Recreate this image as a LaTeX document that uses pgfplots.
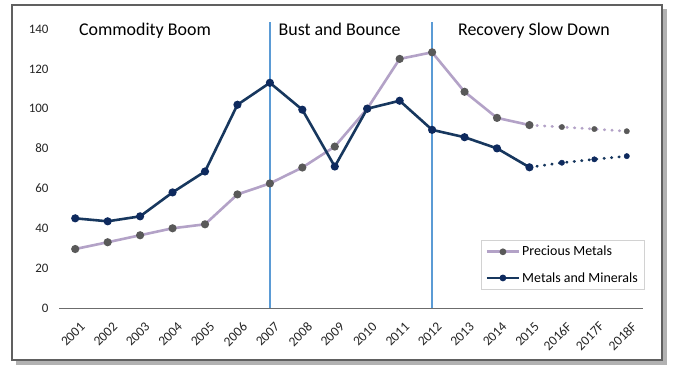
\documentclass[border=0pt]{standalone}
\usepackage{fontspec}
\setmainfont{Carlito}
\usepackage{pgfplots}
\pgfplotsset{compat=1.18}
\definecolor{precious}{HTML}{B3A2C7}
\definecolor{pmark}{HTML}{595959}
\definecolor{metals}{HTML}{17375E}
\definecolor{mmark}{HTML}{0E2A5E}
\definecolor{vline}{HTML}{5B9BD5}
\begin{document}
\begin{tikzpicture}
\useasboundingbox (0bp,0bp) rectangle (689bp,378bp);
\fill[black!30] (16bp,369bp) rectangle (667bp,13bp);
\fill[white, draw=gray!75!black, line width=1.5bp] (12bp,373bp) rectangle (662bp,18bp);
\begin{axis}[
  at={(59bp,70bp)}, anchor=south west,
  scale only axis, width=584bp, height=279bp,
  xmin=-0.5, xmax=17.5, ymin=0, ymax=140,
  clip=false,
  axis lines=left,
  x axis line style={draw=gray!85!black, line width=1bp, -},
  y axis line style={draw=none},
  major tick length=0pt,
  tick style={draw=none},
  xtick={0,...,17},
  xticklabels={2001,2002,2003,2004,2005,2006,2007,2008,2009,2010,2011,2012,2013,2014,2015,2016F,2017F,2018F},
  ytick={0,20,...,140},
  /pgf/number format/assume math mode=true,
  yticklabel style={font=\fontsize{13}{15}\selectfont, xshift=-7bp, text=black!85},
  xticklabel style={font=\fontsize{13.5}{15}\selectfont, rotate=45, anchor=north east, xshift=-3bp, yshift=-9bp, text=black!85},
  legend style={at={(1.0017,0.2437)}, anchor=north east, draw=gray!35, fill=white,
    font=\fontsize{14}{16}\selectfont, row sep=11bp, inner xsep=4bp, inner ysep=4bp,
    cells={anchor=west}},
  legend image code/.code={\draw[mark repeat=2,mark phase=2, mark size=2bp] plot coordinates {(0bp,0bp) (16bp,0bp) (32bp,0bp)};},
]
\addplot[vline, line width=1.3bp, forget plot] coordinates {(6,0) (6,143.5)};
\addplot[vline, line width=1.3bp, forget plot] coordinates {(11,0) (11,143.5)};

\addplot[precious, line width=2.6bp, mark=*, mark size=2.7bp, mark options={fill=pmark, draw=pmark}] coordinates {
(0,29.6) (1,33) (2,36.5) (3,40) (4,42) (5,57) (6,62.5) (7,70.5) (8,81) (9,100) (10,125) (11,128.3) (12,108.5) (13,95.4) (14,91.8)};
\addlegendentry{Precious Metals}
\addplot[metals, line width=2.6bp, mark=*, mark size=2.7bp, mark options={fill=mmark, draw=mmark}] coordinates {
(0,45) (1,43.5) (2,46) (3,58) (4,68.5) (5,102) (6,113) (7,99.5) (8,71) (9,100) (10,104) (11,89.4) (12,85.7) (13,80.1) (14,70.6)};
\addlegendentry{Metals and Minerals}

\addplot[precious, line width=2.8bp, line cap=round, dash pattern=on 0.5bp off 7bp, forget plot] coordinates {
(14,91.8) (15,90.8) (16,89.8) (17,88.7)};
\addplot[only marks, mark=*, mark size=2.7bp, mark options={fill=pmark, draw=pmark}, forget plot] coordinates {
(15,90.8) (16,89.8) (17,88.7)};
\addplot[metals, line width=2.8bp, line cap=round, dash pattern=on 0.5bp off 7bp, forget plot] coordinates {
(14,70.6) (15,72.9) (16,74.6) (17,76.2)};
\addplot[only marks, mark=*, mark size=2.7bp, mark options={fill=mmark, draw=mmark}, forget plot] coordinates {
(15,72.9) (16,74.6) (17,76.2)};

\node[font=\fontsize{18}{21}\selectfont, text=black, anchor=base] at (axis cs:2.15,136.5) {Commodity Boom};
\node[font=\fontsize{18}{21}\selectfont, text=black, anchor=base] at (axis cs:8.15,136.5) {Bust and Bounce};
\node[font=\fontsize{18}{21}\selectfont, text=black, anchor=base] at (axis cs:14.14,136.5) {Recovery Slow Down};
\end{axis}
\end{tikzpicture}
\end{document}
